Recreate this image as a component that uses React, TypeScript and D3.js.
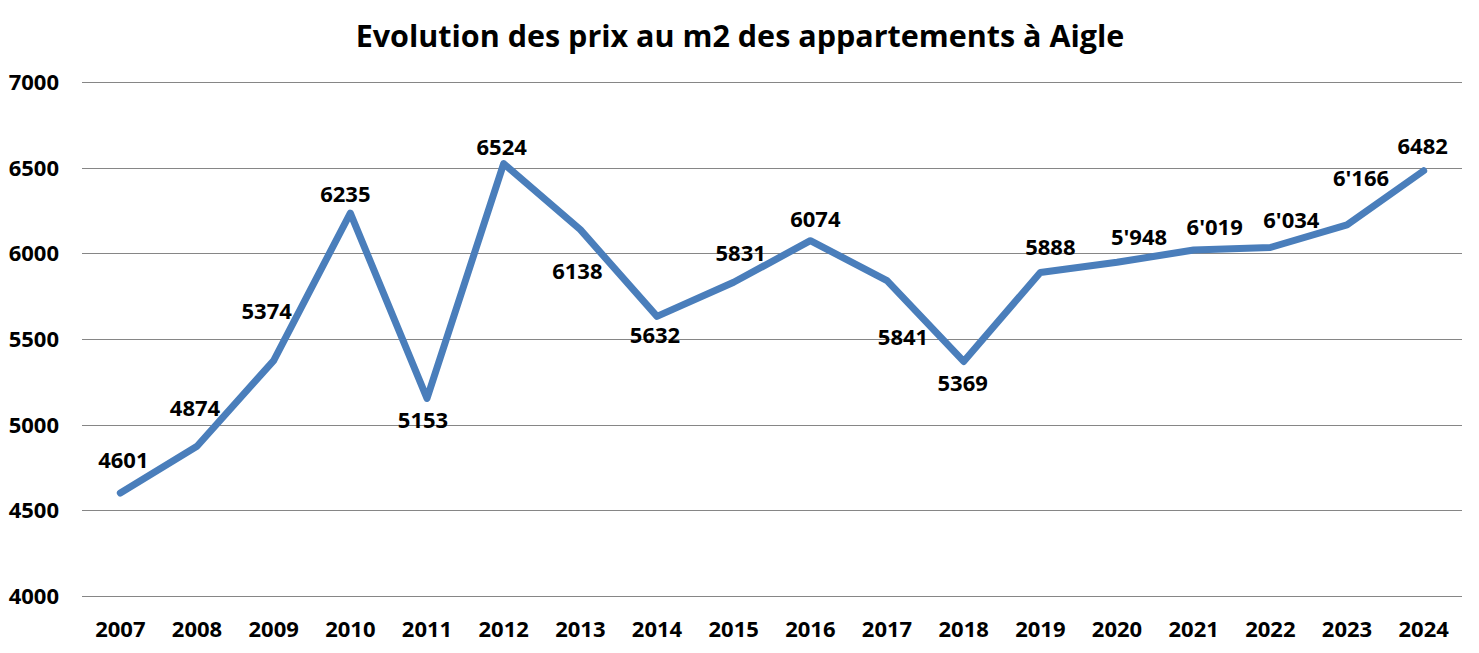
import React, { Component } from 'react';
import * as d3 from "d3";

const years = ["2007", "2008", "2009", "2010", "2011", "2012", "2013", "2014", "2015",
  "2016", "2017", "2018", "2019", "2020", "2021", "2022", "2023", "2024"];
const prices = [4601, 4874, 5374, 6235, 5153, 6524, 6138, 5632, 5831,
  6074, 5841, 5369, 5888, 5948, 6019, 6034, 6166, 6482];
const priceLabels = ["4601", "4874", "5374", "6235", "5153", "6524", "6138", "5632", "5831",
  "6074", "5841", "5369", "5888", "5'948", "6'019", "6'034", "6'166", "6482"];
const yTicks = [4000, 4500, 5000, 5500, 6000, 6500, 7000];

// where each data label sits relative to its point (dx, baseline dy), as placed in the original
const labelShift = [[3, -25], [-2, -30], [-7, -42], [-5, -11], [-4, 30], [-2, -9], [-3, 49], [-2, 27], [7, -21],
  [5, -14], [16, 64], [-1, 30], [10, -18], [22, -17], [21, -15], [21, -20], [14, -39], [-1, -17]];

const title = "Evolution des prix au m2 des appartements à Aigle";

class App extends Component {
  svgRef = React.createRef<SVGSVGElement>();

  componentDidMount() {
    document.body.style.margin = "0";
    this.draw();
  }

  draw() {
    const width = 1479;
    const height = 653;
    const margin = { top: 82, right: 17, bottom: 57, left: 82 };
    const font = "'Open Sans', sans-serif";

    const svg = d3.select(this.svgRef.current).attr("width", width).attr("height", height);
    svg.selectAll("*").remove();

    const xScale = d3.scaleBand().domain(years).range([margin.left, width - margin.right]).padding(0);
    const yScale = d3.scaleLinear().domain([4000, 7000]).range([height - margin.bottom, margin.top]);
    const cx = (i) => xScale(years[i]) + xScale.bandwidth() / 2;

    svg.append("rect").attr("width", width).attr("height", height).attr("fill", "#ffffff");

    // grid lines
    svg.selectAll(".grid").data(yTicks).join("line").attr("class", "grid")
      .attr("x1", margin.left).attr("x2", width - margin.right)
      .attr("y1", d => Math.round(yScale(d)) + 0.5).attr("y2", d => Math.round(yScale(d)) + 0.5)
      .attr("stroke", "#868686").attr("stroke-width", 1);

    // y tick labels
    svg.selectAll(".ytick").data(yTicks).join("text").attr("class", "ytick")
      .attr("x", 59).attr("y", d => yScale(d) + 8)
      .attr("text-anchor", "end")
      .style("font-family", font).style("font-weight", 700).style("font-size", "22px")
      .text(d => d);

    // x tick labels
    svg.selectAll(".xtick").data(years).join("text").attr("class", "xtick")
      .attr("x", (d, i) => cx(i)).attr("y", 637)
      .attr("text-anchor", "middle")
      .style("font-family", font).style("font-weight", 700).style("font-size", "22px")
      .text(d => d);

    const line = d3.line<number>().x((d, i) => cx(i)).y(d => yScale(d));

    svg.append("path").datum(prices)
      .attr("d", line)
      .attr("fill", "none")
      .attr("stroke", "#4a7ebb")
      .attr("stroke-width", 7)
      .attr("stroke-linejoin", "round")
      .attr("stroke-linecap", "round");

    svg.selectAll(".dlabel").data(prices).join("text").attr("class", "dlabel")
      .attr("x", (d, i) => cx(i) + labelShift[i][0])
      .attr("y", (d, i) => yScale(d) + labelShift[i][1])
      .attr("text-anchor", "middle")
      .style("font-family", font).style("font-weight", 700).style("font-size", "22px")
      .attr("fill", "#000")
      .text((d, i) => priceLabels[i]);

    svg.append("text")
      .attr("x", 740).attr("y", 47)
      .attr("text-anchor", "middle")
      .style("font-family", font).style("font-weight", 700).style("font-size", "30.5px")
      .text(title);
  }

  render() {
    return <svg ref={this.svgRef} style={{ display: "block" }}></svg>;
  }
}

export default App;
